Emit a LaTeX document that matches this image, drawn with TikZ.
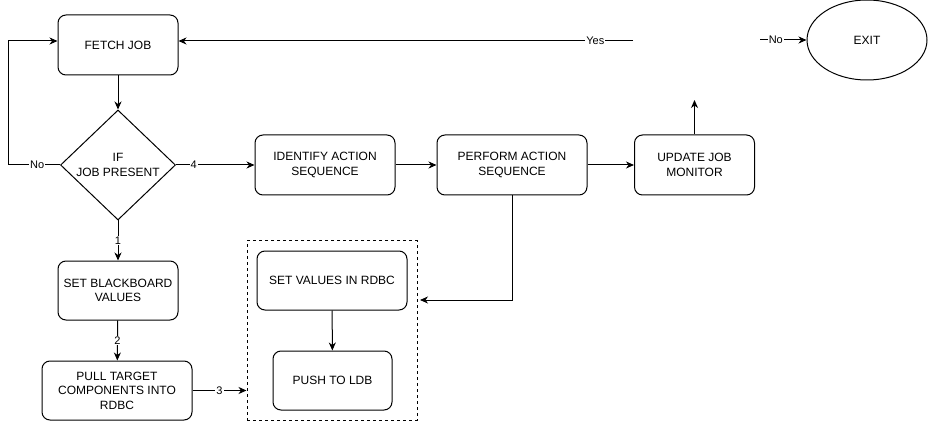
\documentclass[tikz,border=0pt]{standalone}
\usepackage{fontspec}
\setmainfont{Liberation Sans}
\usetikzlibrary{shapes.geometric,arrows.meta}
\begin{document}
\begin{tikzpicture}[x=1pt,y=-1pt,
 box/.style={draw,rounded corners=8pt,line width=1pt,align=center,font=\fontsize{12}{14.4}\selectfont,inner sep=0pt},
 arr/.style={line width=1pt,-{Stealth[length=8pt,width=7pt,inset=2.5pt]}},
 lbl/.style={fill=white,font=\fontsize{11}{13}\selectfont,inner sep=1pt}]
\useasboundingbox (0,0) rectangle (929,422);
\node[box,minimum width=120pt,minimum height=60pt] (fetch) at (118,45) {FETCH JOB};
\node[draw,diamond,aspect=1,line width=1pt,inner sep=0pt,minimum width=115pt,minimum height=110pt,align=center,font=\fontsize{12}{14.4}\selectfont] (dec) at (118,165) {IF\\JOB PRESENT};
\node[box,minimum width=140pt,minimum height=60pt] (ident) at (325,165) {IDENTIFY ACTION\\SEQUENCE};
\node[box,minimum width=150pt,minimum height=60pt] (perf) at (512,165) {PERFORM ACTION\\SEQUENCE};
\node[box,minimum width=120pt,minimum height=60pt] (upd) at (694.5,165) {UPDATE JOB\\MONITOR};
\node[draw,ellipse,line width=1pt,minimum width=120pt,minimum height=80pt,font=\fontsize{12}{14.4}\selectfont] (exit) at (867,40) {EXIT};
\node[box,minimum width=120pt,minimum height=59pt] (sbv) at (118,290.5) {SET BLACKBOARD\\VALUES};
\node[box,minimum width=150pt,minimum height=59pt] (pull) at (117,390.5) {PULL TARGET\\COMPONENTS INTO\\RDBC};
\node[draw,dashed,dash pattern=on 3pt off 3pt,line width=1pt,minimum width=170pt,minimum height=179pt,inner sep=0pt] (grp) at (332,330.5) {};
\node[box,minimum width=150pt,minimum height=59pt] (svr) at (332,280.5) {SET VALUES IN RDBC};
\node[box,minimum width=119pt,minimum height=59pt] (push) at (332.5,380.5) {PUSH TO LDB};
\coordinate (ys) at (633,41);
\coordinate (ns) at (760,40);
\coordinate (upend) at (694.5,100);
\coordinate (pe) at (420,300);
\draw[arr] (fetch) -- (dec);
\draw[arr] (dec.south) -- node[lbl]{1} (sbv.north);
\draw[arr] (sbv) -- node[lbl]{2} (pull);
\draw[arr] (pull.east) -- node[lbl]{3} (grp.west |- pull.east);
\draw[arr] (dec.east) -- node[lbl,pos=0.225]{4} (ident.west);
\draw[arr] (ident) -- (perf);
\draw[arr] (perf) -- (upd);
\draw[arr] (upd.north) -- (upend);
\draw[arr] (perf.south) |- (pe);
\draw[arr] (svr) -- (push);
\draw[arr] (dec.west) -- ++(-52,0) node[lbl,pos=0.44]{No} |- ([yshift=4pt]fetch.west);
\draw[arr] (ys) -- node[lbl,pos=0.083]{Yes} ([yshift=4pt]fetch.east);
\draw[arr] (ns) -- node[lbl,pos=0.34]{No} (exit.west);
\end{tikzpicture}
\end{document}
